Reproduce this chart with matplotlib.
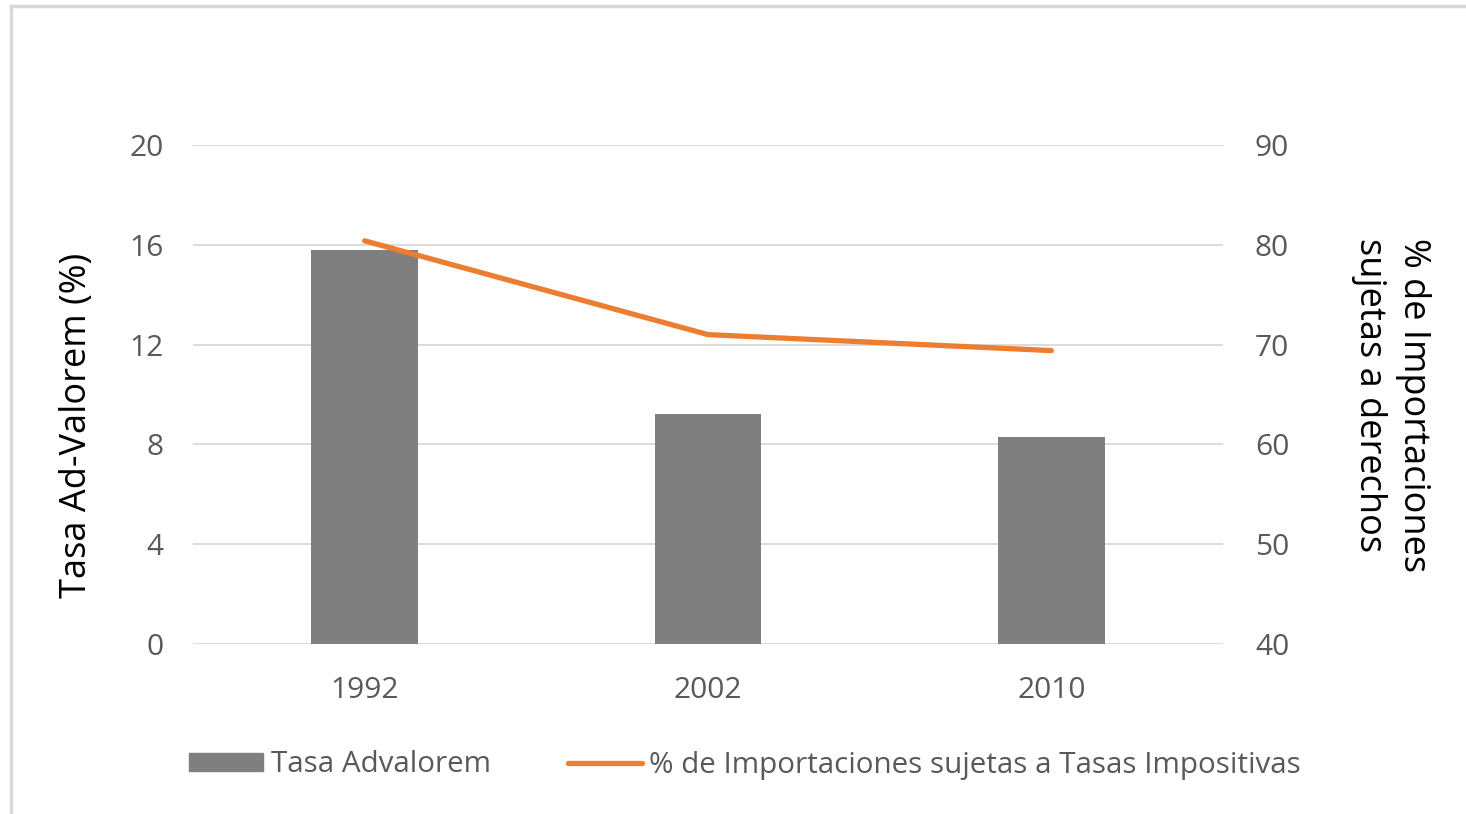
import matplotlib
matplotlib.use("Agg")
import matplotlib.pyplot as plt
import numpy as np
from matplotlib.patches import Rectangle
from matplotlib.lines import Line2D

years = ["1992", "2002", "2010"]
tasa_advalorem = [15.8, 9.2, 8.3]
pct_importaciones = [80.4, 71.0, 69.4]
left_ticks = [0, 4, 8, 12, 16, 20]
right_ticks = [40, 50, 60, 70, 80, 90]

plt.rcParams['font.family'] = ['Open Sans', 'DejaVu Sans']
txt = '#595959'
bar_color = '#7F7F7F'
line_color = '#ED7D31'
grid_color = '#D9D9D9'

fig = plt.figure(figsize=(14.66, 8.14), dpi=100)
ax = fig.add_axes([193/1466, 1-644/814, (1223-193)/1466, (644-145)/814])
ax2 = ax.twinx()

x = np.arange(len(years))
ax.bar(x, tasa_advalorem, width=0.31, color=bar_color, zorder=2)
ax.set_ylim(0, 20)
ax.set_yticks(left_ticks)
ax.set_xlim(-0.5, len(years) - 0.5)
ax.set_xticks(x)
ax.set_xticklabels(years)
for t in left_ticks:
    ax.axhline(t, color=grid_color, lw=1.3, zorder=0)

ax2.plot(x, pct_importaciones, color=line_color, lw=3.8, solid_capstyle='round', zorder=3)
ax2.set_ylim(40, 90)
ax2.set_yticks(right_ticks)

for a in (ax, ax2):
    for s in a.spines.values():
        s.set_visible(False)
    a.tick_params(length=0, labelsize=21.5, colors=txt)
ax.tick_params(axis='y', pad=21)
ax.tick_params(axis='x', pad=23)
ax2.tick_params(axis='y', pad=23)

fig.text(77/1466, 1-425/814, "Tasa Ad-Valorem (%)", fontsize=26, color='black',
         rotation=90, ha='center', va='center')
fig.text(1391/1466, 1-405/814, "% de Importaciones\nsujetas a derechos", fontsize=26,
         color='black', rotation=270, ha='center', va='center',
         multialignment='left', linespacing=1.3)

handles = [Rectangle((0, 0), 1, 1, color=bar_color),
           Line2D([0], [0], color=line_color, lw=3.8, solid_capstyle='round')]
fig.legend(handles, ["Tasa Advalorem", "% de Importaciones sujetas a Tasas Impositivas"],
           loc='center', bbox_to_anchor=(745/1466, 1-765/814), ncol=2, frameon=False,
           fontsize=21.3, labelcolor=txt, handlelength=2.5, handletextpad=0.25,
           columnspacing=2.6, handleheight=0.6)

# outer border
fig.add_artist(Line2D([11/1466, 1], [1-6/814, 1-6/814], color='#D9D9D9', lw=2.5, transform=fig.transFigure))
fig.add_artist(Line2D([11/1466, 11/1466], [0, 1-6/814], color='#D9D9D9', lw=2.5, transform=fig.transFigure))

fig.savefig("out.png", dpi=100)
